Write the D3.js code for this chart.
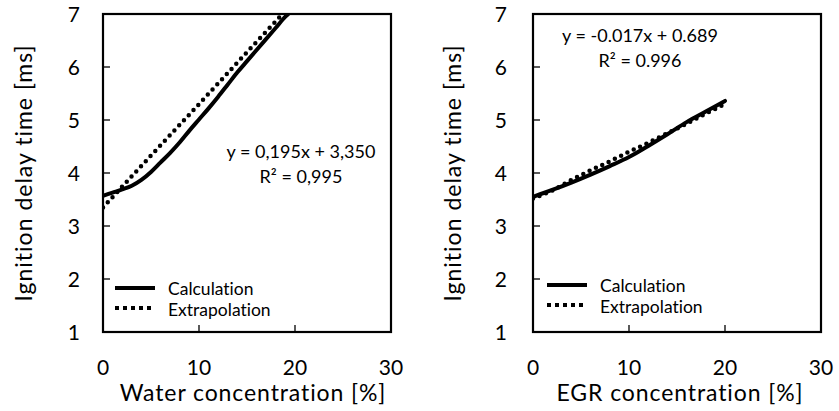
<!DOCTYPE html>
<html>
<head>
<meta charset="utf-8">
<script src="https://cdn.jsdelivr.net/npm/d3@7"></script>
<style>
  body { margin: 0; background: #fff; }
  text { font-family: Lato, "Noto Sans", sans-serif; fill: #000; font-variant-ligatures: none; }
</style>
</head>
<body>
<div id="chart"></div>
<script>
// data
const waterX = [0, 1, 2, 3, 4, 5, 6, 7, 8, 9, 10, 11, 12, 13, 14, 15, 16, 17, 18, 19, 19.3];
const waterCalc = [3.57, 3.63, 3.69, 3.76, 3.87, 4.02, 4.2, 4.38, 4.58, 4.8, 5.01, 5.22, 5.44, 5.67, 5.9, 6.11, 6.32, 6.53, 6.74, 6.95, 7.0];
const waterExtraX = [0, 5, 10, 15, 18.7];
const waterExtra = [3.35, 4.33, 5.30, 6.28, 7.0];

const egrX = [0, 2, 4, 6, 8, 10, 12, 14, 16, 18, 20];
const egrCalc = [3.55, 3.68, 3.82, 3.97, 4.13, 4.3, 4.51, 4.73, 4.96, 5.16, 5.36];
const egrExtra = [3.52, 3.67, 3.87, 4.05, 4.22, 4.4, 4.57, 4.75, 4.93, 5.12, 5.3];

const xTicks = [0, 10, 20, 30];
const yTicks = [1, 2, 3, 4, 5, 6, 7];
const legendLabels = ["Calculation", "Extrapolation"];

const panels = [
  {
    x0: 103, xTitle: "Water concentration [%]", titleShift: 6, yLabGap: 23, yTitleX: 32,
    calc: waterX.map((x, i) => [x, waterCalc[i]]),
    extra: waterExtraX.map((x, i) => [x, waterExtra[i]]),
    eq: ["y = 0,195x + 3,350", "R² = 0,995"], eqX: 301, eqY: [158, 183],
    legX: 115, legY: 288
  },
  {
    x0: 533, xTitle: "EGR concentration [%]", titleShift: 3, yLabGap: 26, yTitleX: 461,
    calc: egrX.map((x, i) => [x, egrCalc[i]]),
    extra: egrX.map((x, i) => [x, egrExtra[i]]),
    eq: ["y = -0.017x + 0.689", "R² = 0.996"], eqX: 640, eqY: [42, 67],
    legX: 547, legY: 285
  }
];

const W = 839, H = 411;
const plotW = 288, plotTop = 14, plotBottom = 332;

const svg = d3.select("#chart").append("svg")
  .attr("width", W)
  .attr("height", H);

panels.forEach((p, k) => {
  const x = d3.scaleLinear().domain([0, 30]).range([p.x0, p.x0 + plotW]);
  const y = d3.scaleLinear().domain([1, 7]).range([plotBottom, plotTop]);

  const g = svg.append("g");
  const clipId = "clip" + k;
  svg.append("clipPath").attr("id", clipId)
    .append("rect")
    .attr("x", p.x0).attr("y", plotTop)
    .attr("width", plotW).attr("height", plotBottom - plotTop);

  // inner ticks
  g.selectAll(".yt").data(yTicks.slice(1, -1)).join("line")
    .attr("x1", p.x0).attr("x2", p.x0 + 7)
    .attr("y1", d => y(d)).attr("y2", d => y(d))
    .attr("stroke", "#000").attr("stroke-width", 1.3);
  g.selectAll(".xt").data(xTicks.slice(1, -1)).join("line")
    .attr("x1", d => x(d)).attr("x2", d => x(d))
    .attr("y1", plotBottom).attr("y2", plotBottom - 7)
    .attr("stroke", "#000").attr("stroke-width", 1.3);

  // tick labels
  g.selectAll(".yl").data(yTicks).join("text")
    .attr("x", p.x0 - p.yLabGap)
    .attr("y", d => y(d) + 7.5)
    .attr("text-anchor", "end")
    .style("font-size", "21px")
    .text(d => d);
  g.selectAll(".xl").data(xTicks).join("text")
    .attr("x", d => x(d))
    .attr("y", 374.5)
    .attr("text-anchor", "middle")
    .style("font-size", "21px")
    .text(d => d);

  // axis titles
  g.append("text")
    .attr("x", p.x0 + plotW / 2 + p.titleShift)
    .attr("y", 400.5)
    .attr("text-anchor", "middle")
    .style("font-size", "23px")
    .style("letter-spacing", "0.9px")
    .text(p.xTitle);
  g.append("text")
    .attr("transform", `translate(${p.yTitleX},${(plotTop + plotBottom) / 2}) rotate(-90)`)
    .attr("text-anchor", "middle")
    .style("font-size", "23px")
    .style("letter-spacing", "1px")
    .text("Ignition delay time [ms]");

  const line = d3.line().x(d => x(d[0])).y(d => y(d[1])).curve(d3.curveMonotoneX);

  const plot = g.append("g").attr("clip-path", `url(#${clipId})`);
  plot.append("path")
    .attr("d", line(p.extra))
    .attr("fill", "none").attr("stroke", "#000")
    .attr("stroke-width", 4.5)
    .attr("stroke-linecap", "round")
    .attr("stroke-dasharray", "0 7");
  plot.append("path")
    .attr("d", line(p.calc))
    .attr("fill", "none").attr("stroke", "#000")
    .attr("stroke-width", 4)
    .attr("stroke-linecap", "round");

  // frame
  g.append("rect")
    .attr("x", p.x0).attr("y", plotTop)
    .attr("width", plotW).attr("height", plotBottom - plotTop)
    .attr("fill", "none").attr("stroke", "#000").attr("stroke-width", 2.2);

  // equation
  g.selectAll(".eq").data(p.eq).join("text")
    .attr("x", p.eqX)
    .attr("y", (d, i) => p.eqY[i])
    .attr("text-anchor", "middle")
    .style("font-size", "18px")
    .text(d => d);

  // legend
  const leg = g.append("g");
  leg.append("line")
    .attr("x1", p.legX).attr("x2", p.legX + 40)
    .attr("y1", p.legY).attr("y2", p.legY)
    .attr("stroke", "#000").attr("stroke-width", 4);
  leg.append("line")
    .attr("x1", p.legX).attr("x2", p.legX + 40)
    .attr("y1", p.legY + 20).attr("y2", p.legY + 20)
    .attr("stroke", "#000").attr("stroke-width", 4)
    .attr("stroke-dasharray", "4 4");
  leg.selectAll(".lt").data(legendLabels).join("text")
    .attr("x", p.legX + 53)
    .attr("y", (d, i) => p.legY + 7 + i * 21)
    .style("font-size", "17.5px")
    .text(d => d);
});
</script>
</body>
</html>
